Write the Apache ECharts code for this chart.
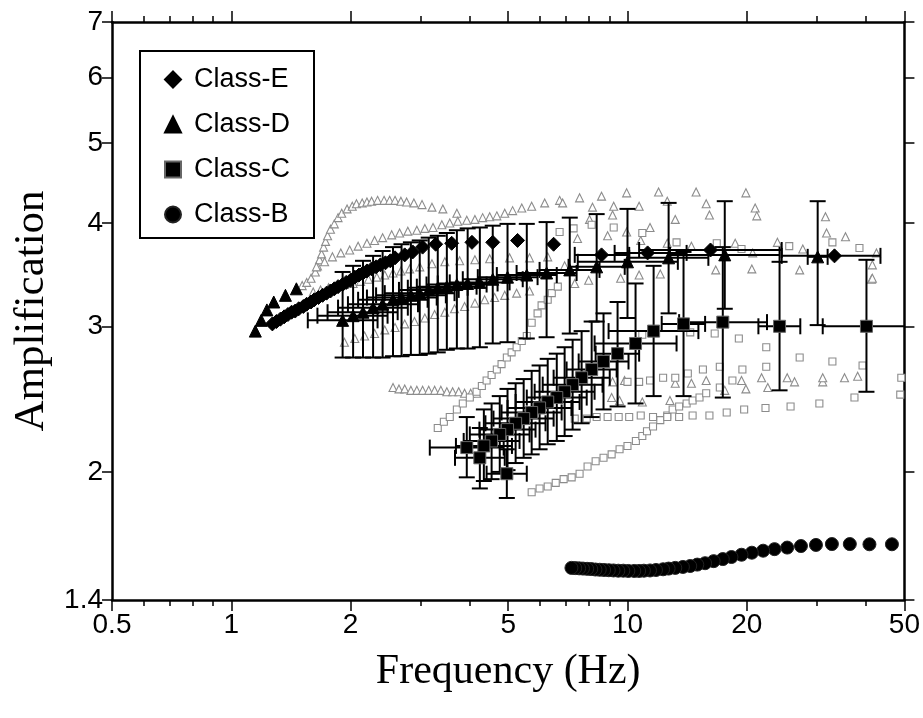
<!DOCTYPE html>
<html><head><meta charset="utf-8">
<script src="https://cdn.jsdelivr.net/npm/echarts@6/dist/echarts.min.js"></script>
<style>html,body{margin:0;padding:0;background:#fff}#c{width:923px;height:718px}</style>
</head><body><div id="c"></div>
<script>
// ---------- axis ticks ----------
const xTickVals = [0.5, 1, 2, 5, 10, 20, 50];
const xTickLabels = ['0.5', '1', '2', '5', '10', '20', '50'];
const xMinorVals = [0.6, 0.7, 0.8, 0.9, 3, 4, 6, 7, 8, 9, 30, 40];
const yTickVals = [1.4, 2, 3, 4, 5, 6, 7];
const yTickLabels = ['1.4', '2', '3', '4', '5', '6', '7'];

// ---------- Class-E (mean) ----------
const eFreq = [1.27,1.30,1.33,1.36,1.39,1.42,1.45,1.48,1.52,1.55,1.59,1.62,1.66,1.70,1.74,1.78,1.82,1.86,1.91,1.95,2.00,2.05,2.10,2.15,2.20,2.26,2.32,2.38,2.45,2.52,2.59,2.74,2.87,3.04,3.28,3.60,4.05,4.57,5.28,6.51,8.6,11.24,16.2,33.3];
const eAmp  = [3.02,3.04,3.06,3.08,3.10,3.12,3.13,3.15,3.17,3.19,3.21,3.23,3.25,3.27,3.29,3.31,3.33,3.35,3.37,3.39,3.41,3.44,3.46,3.48,3.50,3.52,3.54,3.56,3.58,3.60,3.63,3.66,3.69,3.74,3.77,3.78,3.79,3.79,3.81,3.77,3.66,3.68,3.71,3.65];
const eErrIdx = [40, 41, 42, 43];
const eFreqLo = [7.36, 9.28, 10.7, 24.5];
const eFreqHi = [10.1, 14.1, 24.5, 43.5];

// ---------- Class-D (mean) ----------
const dFreq = [1.15,1.19,1.23,1.28,1.37,1.46,1.91,2.03,2.15,2.28,2.41,2.56,2.69,2.84,2.99,3.15,3.32,3.50,3.71,3.95,4.24,4.57,4.98,5.57,6.25,7.15,8.36,10.0,12.7,17.6,30.2];
const dAmp  = [2.96,3.05,3.14,3.21,3.27,3.33,3.05,3.09,3.12,3.16,3.19,3.23,3.25,3.27,3.29,3.32,3.34,3.35,3.37,3.38,3.39,3.42,3.44,3.46,3.48,3.51,3.54,3.59,3.63,3.66,3.64];
const dErrStart = 6;
const dAmpHi  = [3.49,3.55,3.60,3.65,3.70,3.74,3.77,3.79,3.81,3.84,3.86,3.89,3.92,3.94,3.95,3.97,3.99,3.99,4.01,4.06,4.10,4.16,4.23,4.25,4.25];
const dAmpLo  = [2.75,2.75,2.75,2.75,2.75,2.76,2.76,2.77,2.77,2.78,2.79,2.81,2.82,2.82,2.83,2.86,2.87,2.90,2.91,2.94,3.04,3.07,3.11,3.15,3.01];
const dFreqLo = [1.56,1.65,1.75,1.86,1.97,2.09,2.20,2.32,2.44,2.65,2.79,2.94,3.11,3.32,3.56,3.84,4.19,4.68,5.25,6.00,7.10,7.49,10.1,12.8,28.5];
const dFreqHi = [2.34,2.48,2.63,2.79,2.96,3.13,3.30,3.48,3.66,3.75,3.95,4.16,4.41,4.70,5.04,5.44,5.93,6.63,7.44,8.50,9.84,13.4,16.0,24.2,32.0];

// ---------- Class-C (mean) ----------
const cFreq   = [40.1,24.2,17.4,13.85,11.64,10.48,9.44,8.70,8.12,7.66,7.27,6.94,6.63,6.29,6.00,5.73,5.47,5.22,4.98,4.76,4.54,4.34,3.93,4.24,4.96];
const cAmp    = [3.00,3.00,3.035,3.02,2.96,2.86,2.78,2.72,2.66,2.60,2.55,2.50,2.46,2.43,2.39,2.36,2.32,2.29,2.25,2.22,2.18,2.15,2.14,2.08,1.99];
const cAmpHi  = [3.61,3.59,3.74,3.69,3.55,3.38,3.21,3.11,3.04,2.96,2.89,2.83,2.78,2.74,2.69,2.65,2.59,2.56,2.52,2.47,2.42,2.38,2.33,2.26,2.13];
const cAmpLo  = [2.50,2.51,2.46,2.47,2.47,2.42,2.40,2.38,2.33,2.29,2.25,2.21,2.18,2.16,2.13,2.10,2.08,2.05,2.01,2.00,1.96,1.95,1.97,1.91,1.86];
const cFreqLo = [31.1,21.4,13.5,12.2,8.96,8.26,8.31,7.53,7.02,6.51,6.11,5.83,5.57,5.22,4.98,4.81,4.59,4.38,4.23,4.00,3.86,3.69,3.17,3.67,4.41];
const cFreqHi = [51.8,27.3,22.5,15.7,15.1,13.3,10.7,10.06,9.39,9.02,8.65,8.26,7.89,7.57,7.22,6.82,6.51,6.21,5.86,5.66,5.34,5.11,4.87,4.90,5.57];

// ---------- Class-B (mean) ----------
const bFreq = [46.5,40.8,36.4,32.8,29.9,27.4,25.3,23.5,22.0,20.6,19.4,18.3,17.4,16.5,15.7,15.0,14.4,13.8,13.2,12.7,12.3,11.8,11.4,11.0,10.7,10.4,10.05,9.76,9.48,9.22,8.97,8.73,8.51,8.30,8.10,7.91,7.72,7.55,7.38,7.22];
const bAmp  = [1.635,1.635,1.636,1.636,1.632,1.627,1.620,1.613,1.606,1.597,1.588,1.578,1.569,1.560,1.551,1.545,1.539,1.535,1.531,1.528,1.525,1.522,1.520,1.519,1.518,1.518,1.518,1.519,1.519,1.520,1.521,1.522,1.523,1.524,1.526,1.527,1.528,1.529,1.530,1.531];

// ---------- individual Class-D sites (grey triangles) ----------
const sd1F = [1.46,1.51,1.55,1.59,1.63,1.65,1.67,1.69,1.71,1.73,1.75,1.78,1.82,1.86,1.90,1.96,2.02,2.07,2.14,2.20,2.26,2.34,2.43,2.51,2.59,2.68,2.77,2.89,3.03,3.21,3.42,3.71];
const sd1A = [3.33,3.36,3.39,3.43,3.49,3.55,3.61,3.67,3.74,3.80,3.86,3.93,3.99,4.06,4.11,4.16,4.19,4.22,4.23,4.24,4.25,4.26,4.26,4.26,4.26,4.25,4.24,4.23,4.21,4.18,4.16,4.11];
const sd2F = [1.64,1.72,1.80,1.89,1.99,2.09,2.20,2.30,2.41,2.54,2.66,2.79,2.94,3.08,3.23,3.40,3.56,3.73,3.93,4.12,4.31,4.49,4.68,4.90,5.13,5.41,5.73,6.18,6.74,7.57,8.60,9.95,11.98,14.9,19.9];
const sd2A = [3.54,3.59,3.64,3.68,3.71,3.75,3.78,3.81,3.84,3.87,3.89,3.91,3.92,3.94,3.95,3.98,4.00,4.02,4.03,4.04,4.06,4.07,4.08,4.11,4.14,4.17,4.19,4.23,4.26,4.29,4.31,4.35,4.36,4.36,4.35];
const sd3F = [1.61,1.68,1.76,1.85,1.93,2.03,2.12,2.22,2.33,2.44,2.56,2.68,2.82,2.99,3.21,3.46,3.77,4.12,4.49,5.04,5.66,6.29];
const sd3A = [3.30,3.32,3.34,3.36,3.37,3.38,3.40,3.42,3.44,3.46,3.48,3.50,3.52,3.54,3.57,3.59,3.60,3.61,3.62,3.63,3.63,3.64];
const sd4F = [1.93,2.05,2.17,2.30,2.44,2.59,2.74,2.90,3.08,3.26,3.46,3.66,3.88,4.12,4.36,4.62,4.90,5.25,5.66];
const sd4A = [2.87,2.90,2.92,2.94,2.97,2.99,3.02,3.04,3.07,3.10,3.12,3.15,3.17,3.20,3.23,3.25,3.27,3.29,3.31];
const sd5F = [2.56,2.65,2.74,2.84,2.94,3.04,3.15,3.26,3.38,3.50,3.62,3.75,3.88,4.02,4.16,9.12,9.55,10.9,12.8,17.6,19.9,22.6,26.4,31.1,35.3];
const sd5A = [2.53,2.52,2.52,2.51,2.51,2.51,2.51,2.51,2.51,2.50,2.50,2.50,2.49,2.49,2.49,2.46,2.44,2.43,2.44,2.51,2.52,2.53,2.57,2.57,2.60];
const sd6F = [9.17,9.83,13.2,14.5,15.8,19.4,21.8,25.3,31.1,38.1];
const sd6A = [2.57,2.58,2.56,2.56,2.58,2.58,2.60,2.60,2.60,2.61];
const sd7F = [6.86,8.16,9.23,10.7,12.6,15.8,21.0,31.6,35.5,42.5];
const sd7A = [4.23,4.18,4.19,4.19,4.25,4.22,4.17,4.07,3.85,3.68];
const sd8F = [8.02,9.17,11.4,13.2,16.1,21.2,31.8,41.5];
const sd8A = [4.04,4.09,3.95,4.04,4.09,4.08,3.89,3.56];
const sd9F = [7.48,8.91,9.95,10.8,12.6,14.5,18.7,20.7,23.9,27.7,41.3];
const sd9A = [3.83,3.86,3.90,3.81,3.78,3.75,3.78,3.68,3.79,3.72,3.42];
const sd10F = [6.94,7.36,7.98,9.61,10.7,12.1,16.7,20.6,27.2,41.5];
const sd10A = [3.55,3.38,3.41,3.43,3.46,3.47,3.51,3.52,3.51,3.43];

// ---------- individual Class-C sites (grey squares) ----------
const sc1F = [3.32,3.44,3.56,3.71,3.84,4.00,4.16,4.29,4.41,4.54,4.68,4.81,4.96,5.10,5.25,5.41,5.57,5.73,5.93,6.07,6.29,6.44,6.67,6.74,7.31,8.12,9.23,10.9,13.3,16.8,19.4,25.6,32.9,38.5];
const sc1A = [2.26,2.30,2.33,2.38,2.42,2.46,2.50,2.54,2.58,2.62,2.66,2.70,2.75,2.79,2.83,2.88,2.92,3.03,3.11,3.18,3.23,3.29,3.35,3.90,3.94,3.98,3.95,3.89,3.79,3.78,3.72,3.75,3.79,3.73];
const sc2F = [5.73,6.00,6.29,6.59,6.90,7.23,7.57,7.93,8.31,8.70,9.12,9.55,10.0,10.5,10.9,11.2,11.6,12.1,12.6,13.0,13.5,14.1,14.6,15.2,15.8,17.1,19.5,22.4,27.2,32.9,39.2,49.1];
const sc2A = [1.89,1.91,1.92,1.94,1.96,1.97,1.99,2.03,2.06,2.08,2.10,2.13,2.15,2.18,2.21,2.24,2.27,2.31,2.34,2.38,2.40,2.42,2.44,2.46,2.49,2.53,2.66,2.68,2.75,2.72,2.69,2.60];
const sc3F = [7.36,7.89,8.36,8.91,9.50,10.1,10.8,11.6,12.6,13.5,14.6,16.1,17.8,19.7,22.3,25.8,30.5,37.4,48.8];
const sc3A = [2.32,2.32,2.33,2.33,2.33,2.33,2.34,2.33,2.33,2.33,2.34,2.34,2.36,2.38,2.39,2.40,2.42,2.46,2.48];
const sc4F = [10.0,10.7,11.4,12.3,13.2,14.2,15.5,17.1,18.4];
const sc4A = [2.57,2.57,2.58,2.60,2.60,2.63,2.66,2.68,2.58];
const sc5F = [10.9,14.4,16.6,19.1,22.4];
const sc5A = [2.93,2.95,2.94,2.90,2.83];

// ---------- build ----------
const LG = Math.log10;
const zip = (fs, as) => fs.map((f, i) => [f, as[i]]);

const eErrData = eErrIdx.map((idx, k) => [eFreq[idx], eAmp[idx], eFreqLo[k], eFreqHi[k], null, null]);
const dErrData = dAmpHi.map((v, k) => {
  const i = dErrStart + k;
  return [dFreq[i], dAmp[i], dFreqLo[k], dFreqHi[k], dAmpLo[k], dAmpHi[k]];
});
const cErrData = cFreq.map((f, i) => [f, cAmp[i], cFreqLo[i], cFreqHi[i], cAmpLo[i], cAmpHi[i]]);

function errSeries(name, data) {
  return {
    type: 'custom', name: name, xAxisIndex: 0, yAxisIndex: 0, clip: true, silent: true, z: 3,
    encode: { x: 0, y: 1 },
    renderItem: function (params, api) {
      const f = api.value(0), a = api.value(1);
      const fl = api.value(2), fh = api.value(3), al = api.value(4), ah = api.value(5);
      const c = api.coord([f, a]);
      const st = { stroke: '#000', lineWidth: 2, fill: null };
      const cap = 8;
      const ch = [];
      if (isFinite(al) && isFinite(ah) && al > 0 && ah > 0) {
        const p1 = api.coord([f, al]), p2 = api.coord([f, ah]);
        ch.push({ type: 'line', shape: { x1: c[0], y1: p1[1], x2: c[0], y2: p2[1] }, style: st });
        ch.push({ type: 'line', shape: { x1: c[0] - cap, y1: p1[1], x2: c[0] + cap, y2: p1[1] }, style: st });
        ch.push({ type: 'line', shape: { x1: c[0] - cap, y1: p2[1], x2: c[0] + cap, y2: p2[1] }, style: st });
      }
      if (isFinite(fl) && isFinite(fh) && fl > 0 && fh > 0) {
        const q1 = api.coord([fl, a]), q2 = api.coord([fh, a]);
        ch.push({ type: 'line', shape: { x1: q1[0], y1: c[1], x2: q2[0], y2: c[1] }, style: st });
        ch.push({ type: 'line', shape: { x1: q1[0], y1: c[1] - cap, x2: q1[0], y2: c[1] + cap }, style: st });
        ch.push({ type: 'line', shape: { x1: q2[0], y1: c[1] - cap, x2: q2[0], y2: c[1] + cap }, style: st });
      }
      return { type: 'group', children: ch };
    },
    data: data
  };
}

function greySeries(name, fs, as, sym, size) {
  return {
    type: 'scatter', name: name, xAxisIndex: 0, yAxisIndex: 0, silent: true, z: 2,
    symbol: sym, symbolSize: size,
    itemStyle: { color: '#ffffff', borderColor: '#8c8c8c', borderWidth: 1.1, opacity: 1 },
    data: zip(fs, as)
  };
}

function blackSeries(name, fs, as, sym, size, z, border) {
  return {
    type: 'scatter', name: name, xAxisIndex: 0, yAxisIndex: 0, silent: true, z: z,
    symbol: sym, symbolSize: size,
    itemStyle: { color: '#000000', borderColor: border, borderWidth: 1, opacity: 1 },
    data: zip(fs, as)
  };
}

const labelFont = 'Liberation Sans, Arial, sans-serif';
const titleFont = 'Liberation Serif, Times New Roman, serif';

function xAxisDef(pos, ticks, len, showLine, showLabel) {
  return {
    type: 'value', position: pos, min: LG(0.5), max: LG(50),
    axisLine: { show: showLine, onZero: false, lineStyle: { color: '#000', width: 2.5 } },
    axisTick: { show: true, inside: false, length: len, customValues: ticks.map(LG), lineStyle: { color: '#000', width: 1.5 } },
    axisLabel: showLabel ? {
      show: true, customValues: xTickVals.map(LG), margin: 11,
      fontFamily: labelFont, fontSize: 28, color: '#000',
      formatter: v => { let best = 0; xTickVals.forEach((t, i) => { if (Math.abs(LG(t) - v) < Math.abs(LG(xTickVals[best]) - v)) best = i; }); return xTickLabels[best]; }
    } : { show: false },
    splitLine: { show: false },
    name: showLabel ? 'Frequency (Hz)' : '', nameLocation: 'middle', nameGap: 51,
    nameTextStyle: { fontFamily: titleFont, fontSize: 42, color: '#000' }
  };
}
function yAxisDef(pos, showLabel) {
  return {
    type: 'value', position: pos, min: LG(1.4), max: LG(7),
    axisLine: { show: true, onZero: false, lineStyle: { color: '#000', width: 2.5 } },
    axisTick: { show: true, inside: false, length: 10, customValues: yTickVals.map(LG), lineStyle: { color: '#000', width: 1.5 } },
    axisLabel: showLabel ? {
      show: true, customValues: yTickVals.map(LG), margin: 9,
      fontFamily: labelFont, fontSize: 28, color: '#000',
      formatter: v => { let best = 0; yTickVals.forEach((t, i) => { if (Math.abs(LG(t) - v) < Math.abs(LG(yTickVals[best]) - v)) best = i; }); return yTickLabels[best]; }
    } : { show: false },
    splitLine: { show: false },
    name: showLabel ? 'Amplification' : '', nameLocation: 'middle', nameGap: 56,
    nameTextStyle: { fontFamily: titleFont, fontSize: 43, color: '#000' }
  };
}

const chart = echarts.init(document.getElementById('c'));
chart.setOption({
  backgroundColor: '#fff',
  animation: false,
  grid: { left: 112, right: 18, top: 22, bottom: 118, containLabel: false },
  xAxis: [
    { type: 'log', logBase: 10, min: 0.5, max: 50, show: false },
    xAxisDef('bottom', xTickVals, 11, true, true),
    xAxisDef('bottom', xMinorVals, 6, false, false),
    xAxisDef('top', xTickVals, 11, true, false),
    xAxisDef('top', xMinorVals, 6, false, false)
  ],
  yAxis: [
    { type: 'log', logBase: 10, min: 1.4, max: 7, show: false },
    yAxisDef('left', true),
    yAxisDef('right', false)
  ],
  legend: {
    data: ['Class-E', 'Class-D', 'Class-C', 'Class-B'],
    orient: 'vertical', left: 140, top: 51,
    padding: [15, 24, 10, 24], itemGap: 18, itemWidth: 16, itemHeight: 16,
    borderColor: '#000', borderWidth: 2, backgroundColor: '#fff',
    selectedMode: false,
    textStyle: { fontFamily: labelFont, fontSize: 27, color: '#000', padding: [0, 0, 0, 8] }
  },
  series: [
    greySeries('siteD1', sd1F, sd1A, 'triangle', 8),
    greySeries('siteD2', sd2F, sd2A, 'triangle', 8),
    greySeries('siteD3', sd3F, sd3A, 'triangle', 8),
    greySeries('siteD4', sd4F, sd4A, 'triangle', 8),
    greySeries('siteD5', sd5F, sd5A, 'triangle', 8),
    greySeries('siteD6', sd6F, sd6A, 'triangle', 8),
    greySeries('siteD7', sd7F, sd7A, 'triangle', 8),
    greySeries('siteD8', sd8F, sd8A, 'triangle', 8),
    greySeries('siteD9', sd9F, sd9A, 'triangle', 8),
    greySeries('siteD10', sd10F, sd10A, 'triangle', 8),
    greySeries('siteC1', sc1F, sc1A, 'rect', 7),
    greySeries('siteC2', sc2F, sc2A, 'rect', 7),
    greySeries('siteC3', sc3F, sc3A, 'rect', 7),
    greySeries('siteC4', sc4F, sc4A, 'rect', 7),
    greySeries('siteC5', sc5F, sc5A, 'rect', 7),
    errSeries('errD', dErrData),
    errSeries('errC', cErrData),
    errSeries('errE', eErrData),
    blackSeries('Class-B', bFreq, bAmp, 'circle', 13, 5, '#222'),
    blackSeries('Class-C', cFreq, cAmp, 'rect', 12, 5, '#666'),
    blackSeries('Class-D', dFreq, dAmp, 'triangle', 12, 6, '#000'),
    blackSeries('Class-E', eFreq, eAmp, 'diamond', 14, 7, '#000')
  ]
});
</script>
</body></html>
